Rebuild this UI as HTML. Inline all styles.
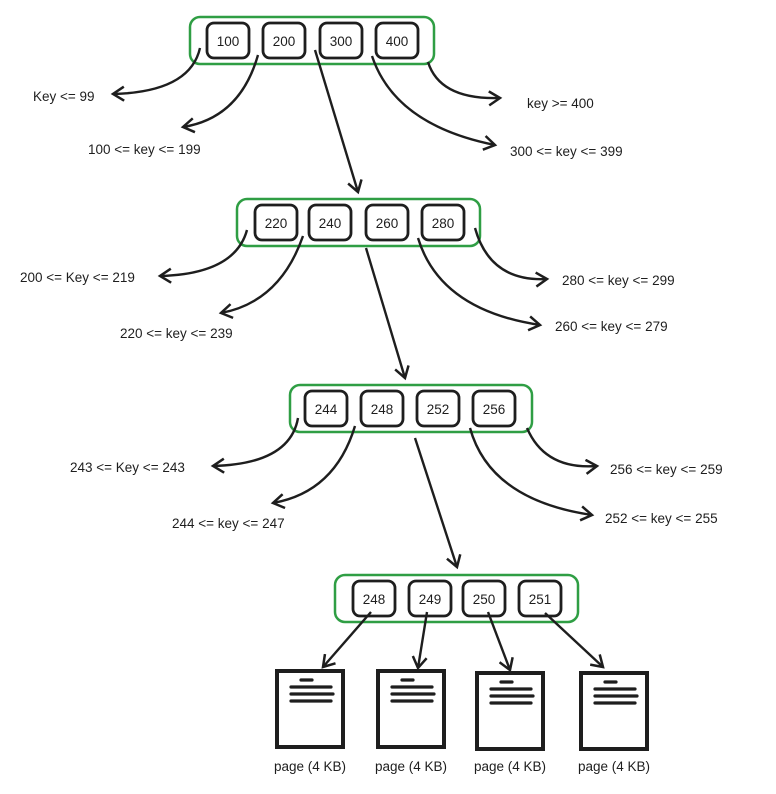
<!DOCTYPE html>
<html><head><meta charset="utf-8"><style>
html,body{margin:0;padding:0;background:#fff;}
svg{display:block;}
text{font-family:"Liberation Sans",sans-serif;font-size:13.5px;fill:#1e1e1e;}
.g{fill:none;stroke:#2f9e44;stroke-width:2.5;}
.b{fill:#fff;stroke:#1e1e1e;stroke-width:2.8;}
.a{fill:none;stroke:#1e1e1e;stroke-width:2.4;marker-end:url(#m);}
.p{fill:#fff;stroke:#1e1e1e;stroke-width:4;}
.l{stroke:#1e1e1e;stroke-width:3.2;stroke-linecap:round;}
</style></head><body>
<svg width="776" height="794" viewBox="0 0 776 794">
<defs><marker id="m" markerWidth="16" markerHeight="16" refX="12" refY="8" orient="auto" markerUnits="userSpaceOnUse"><polyline points="1,1 12,8 1,15" fill="none" stroke="#1e1e1e" stroke-width="2.5"/></marker></defs>

<rect class="g" x="190" y="17" width="244" height="47" rx="10"/>
<rect class="b" x="207" y="23" width="42" height="35" rx="7"/><text x="228" y="46" text-anchor="middle">100</text>
<rect class="b" x="263" y="23" width="42" height="35" rx="7"/><text x="284" y="46" text-anchor="middle">200</text>
<rect class="b" x="320" y="23" width="42" height="35" rx="7"/><text x="341" y="46" text-anchor="middle">300</text>
<rect class="b" x="376" y="23" width="42" height="35" rx="7"/><text x="397" y="46" text-anchor="middle">400</text>
<path class="a" d="M200,48 Q190,92 113,94"/>
<path class="a" d="M258,55 Q240,118 183,127"/>
<path class="a" d="M315,50 L358,192"/>
<path class="a" d="M372,56 Q395,125 495,145"/>
<path class="a" d="M428,62 Q440,100 500,98"/>
<text x="33" y="101">Key &lt;= 99</text>
<text x="88" y="154">100 &lt;= key &lt;= 199</text>
<text x="510" y="156">300 &lt;= key &lt;= 399</text>
<text x="527" y="108">key &gt;= 400</text>

<rect class="g" x="237" y="199" width="243" height="47" rx="10"/>
<rect class="b" x="255" y="205" width="42" height="35" rx="7"/><text x="276" y="228" text-anchor="middle">220</text>
<rect class="b" x="309" y="205" width="42" height="35" rx="7"/><text x="330" y="228" text-anchor="middle">240</text>
<rect class="b" x="366" y="205" width="42" height="35" rx="7"/><text x="387" y="228" text-anchor="middle">260</text>
<rect class="b" x="422" y="205" width="42" height="35" rx="7"/><text x="443" y="228" text-anchor="middle">280</text>
<path class="a" d="M247,230 Q235,274 160,276"/>
<path class="a" d="M303,236 Q280,302 221,313"/>
<path class="a" d="M366,248 L405,378"/>
<path class="a" d="M418,238 Q440,310 540,325"/>
<path class="a" d="M475,228 Q490,282 547,279"/>
<text x="20" y="282">200 &lt;= Key &lt;= 219</text>
<text x="120" y="338">220 &lt;= key &lt;= 239</text>
<text x="555" y="331">260 &lt;= key &lt;= 279</text>
<text x="562" y="285">280 &lt;= key &lt;= 299</text>

<rect class="g" x="290" y="385" width="242" height="47" rx="10"/>
<rect class="b" x="305" y="391" width="42" height="35" rx="7"/><text x="326" y="414" text-anchor="middle">244</text>
<rect class="b" x="361" y="391" width="42" height="35" rx="7"/><text x="382" y="414" text-anchor="middle">248</text>
<rect class="b" x="417" y="391" width="42" height="35" rx="7"/><text x="438" y="414" text-anchor="middle">252</text>
<rect class="b" x="473" y="391" width="42" height="35" rx="7"/><text x="494" y="414" text-anchor="middle">256</text>
<path class="a" d="M298,418 Q290,464 213,466"/>
<path class="a" d="M355,426 Q335,492 273,503"/>
<path class="a" d="M415,438 L457,567"/>
<path class="a" d="M470,428 Q490,500 592,515"/>
<path class="a" d="M527,428 Q545,470 597,466"/>
<text x="70" y="472">243 &lt;= Key &lt;= 243</text>
<text x="172" y="528">244 &lt;= key &lt;= 247</text>
<text x="605" y="523">252 &lt;= key &lt;= 255</text>
<text x="610" y="474">256 &lt;= key &lt;= 259</text>

<rect class="g" x="335" y="575" width="243" height="47" rx="10"/>
<rect class="b" x="353" y="581" width="42" height="35" rx="7"/><text x="374" y="604" text-anchor="middle">248</text>
<rect class="b" x="409" y="581" width="42" height="35" rx="7"/><text x="430" y="604" text-anchor="middle">249</text>
<rect class="b" x="463" y="581" width="42" height="35" rx="7"/><text x="484" y="604" text-anchor="middle">250</text>
<rect class="b" x="519" y="581" width="42" height="35" rx="7"/><text x="540" y="604" text-anchor="middle">251</text>
<path class="a" d="M371,612 L323,667"/>
<path class="a" d="M427,612 L418,668"/>
<path class="a" d="M488,612 L510,670"/>
<path class="a" d="M545,613 L603,667"/>

<g>
<rect class="p" x="277" y="671" width="66" height="76"/>
<line class="l" x1="301" y1="680" x2="312" y2="680"/><line class="l" x1="291" y1="687" x2="331" y2="687"/><line class="l" x1="291" y1="694" x2="333" y2="694"/><line class="l" x1="291" y1="701" x2="331" y2="701"/>
<text x="274" y="771" font-size="11">page (4 KB)</text>
</g>
<g>
<rect class="p" x="378" y="671" width="66" height="76"/>
<line class="l" x1="402" y1="680" x2="413" y2="680"/><line class="l" x1="392" y1="687" x2="432" y2="687"/><line class="l" x1="392" y1="694" x2="434" y2="694"/><line class="l" x1="392" y1="701" x2="432" y2="701"/>
<text x="375" y="771" font-size="11">page (4 KB)</text>
</g>
<g>
<rect class="p" x="477" y="673" width="66" height="76"/>
<line class="l" x1="501" y1="682" x2="512" y2="682"/><line class="l" x1="491" y1="689" x2="531" y2="689"/><line class="l" x1="491" y1="696" x2="533" y2="696"/><line class="l" x1="491" y1="703" x2="531" y2="703"/>
<text x="474" y="771" font-size="11">page (4 KB)</text>
</g>
<g>
<rect class="p" x="581" y="673" width="66" height="76"/>
<line class="l" x1="605" y1="682" x2="616" y2="682"/><line class="l" x1="595" y1="689" x2="635" y2="689"/><line class="l" x1="595" y1="696" x2="637" y2="696"/><line class="l" x1="595" y1="703" x2="635" y2="703"/>
<text x="578" y="771" font-size="11">page (4 KB)</text>
</g>
</svg>
</body></html>
